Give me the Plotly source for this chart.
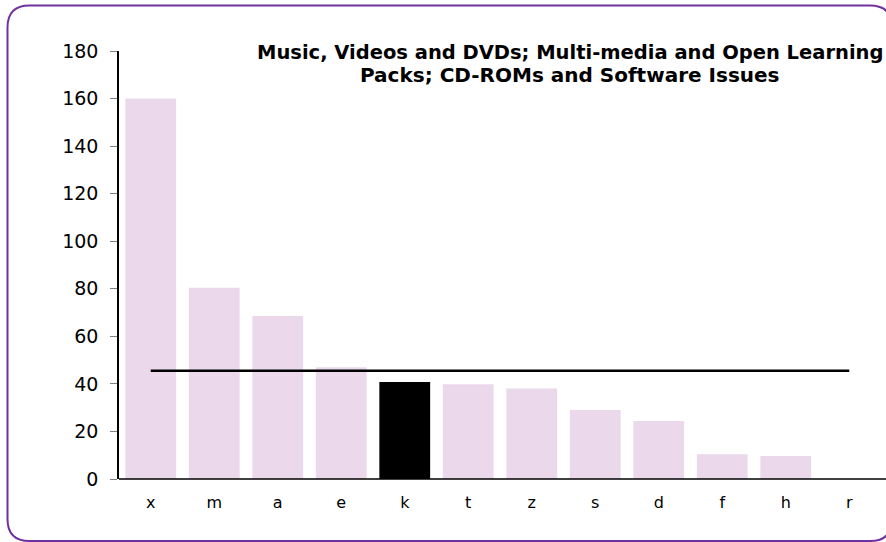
import plotly.graph_objects as go

categories = ["x", "m", "a", "e", "k", "t", "z", "s", "d", "f", "h", "r"]
values = [160, 80.4, 68.5, 47, 40.8, 39.8, 38.1, 29, 24.4, 10.4, 9.7, 0]
highlight = "k"
average = 45.5
y_ticks = [0, 20, 40, 60, 80, 100, 120, 140, 160, 180]
title_lines = ["Music, Videos and DVDs; Multi-media and Open Learning",
               "Packs; CD-ROMs and Software Issues"]

W, H = 886, 542
ML, MR, MT, MB = 119, 5, 51, 63
PW, PH = W - ML - MR, H - MT - MB


def px(x):
    return (x - ML) / PW


def py(y):
    return (H - MB - y) / PH


bar_colors = ["#000000" if c == highlight else "#EBD9EB" for c in categories]

fig = go.Figure()
fig.add_trace(go.Bar(x=categories, y=values, marker=dict(color=bar_colors, line=dict(width=0)),
                     showlegend=False))
fig.add_trace(go.Scatter(x=[categories[0], categories[-1]], y=[average, average], mode="lines",
                         line=dict(color="#000000", width=2.5), showlegend=False))

# rounded border
L, T, R, B, rad = 7.5, 5.5, 892, 541, 22
path = (f"M {px(L)},{py(T + rad)} Q {px(L)},{py(T)} {px(L + rad)},{py(T)} "
        f"L {px(R - rad)},{py(T)} Q {px(R)},{py(T)} {px(R)},{py(T + rad)} "
        f"L {px(R)},{py(B - rad)} Q {px(R)},{py(B)} {px(R - rad)},{py(B)} "
        f"L {px(L + rad)},{py(B)} Q {px(L)},{py(B)} {px(L)},{py(B - rad)} Z")
fig.add_shape(type="path", path=path, xref="paper", yref="paper",
              line=dict(color="#7030A0", width=2))
# extended x axis line
fig.add_shape(type="line", xref="paper", yref="paper", x0=0, x1=px(886), y0=0, y1=0,
              line=dict(color="#000000", width=1.5))

for line_text, y_center, fsize in zip(title_lines, [52, 75], [19.5, 20]):
    fig.add_annotation(text="<b>" + line_text + "</b>", xref="paper", yref="paper",
                       x=px(570), y=py(y_center), xanchor="center", yanchor="middle",
                       showarrow=False,
                       font=dict(family="DejaVu Sans", size=fsize, color="#000000"))

fig.update_layout(
    width=W, height=H,
    margin=dict(l=ML, r=MR, t=MT, b=MB),
    paper_bgcolor="white", plot_bgcolor="white",
    bargap=0.2,
    xaxis=dict(showline=False, ticks="", showgrid=False, zeroline=False,
               tickfont=dict(family="DejaVu Sans", size=16, color="#000000"),
               ticklabelstandoff=12),
    yaxis=dict(range=[0, 180], tickvals=y_ticks, showline=True, linecolor="#000000", linewidth=1.5,
               ticks="outside", ticklen=7, tickcolor="#808080", showgrid=False, zeroline=False,
               tickfont=dict(family="DejaVu Sans", size=19, color="#000000"),
               ticklabelstandoff=8),
)

fig.write_html("out.html", config={"displayModeBar": False},
               post_script="document.body.style.margin='0px';")
